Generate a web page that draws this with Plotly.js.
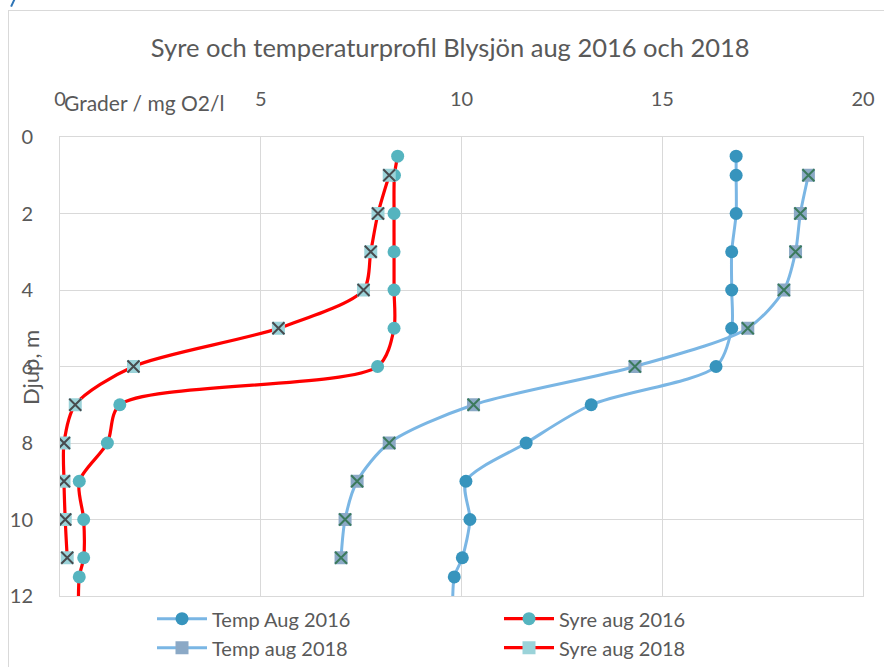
<!DOCTYPE html>
<html>
<head>
<meta charset="utf-8">
<script src="https://cdn.plot.ly/plotly-3.0.1.min.js"></script>
<style>
  html, body { margin: 0; padding: 0; background: #ffffff; }
  #wrap { position: relative; width: 884px; height: 667px; overflow: hidden; }
  #frame { position: absolute; left: 8px; top: 10px; width: 884px; height: 670px; border: 1px solid #d9d9d9; box-sizing: border-box; }
  #corner { position: absolute; left: 12px; top: -2px; width: 2px; height: 9px; background: #2e75b6; transform: rotate(25deg); }
  #chart { position: absolute; left: 0; top: 0; width: 884px; height: 667px; }
</style>
</head>
<body>
<div id="wrap">
  <div id="frame"></div>
  <div id="corner"></div>
  <div id="chart"></div>
</div>
<script>
// Depths (m)
const depth2016 = [0.5, 1, 2, 3, 4, 5, 6, 7, 8, 9, 10, 11, 11.5, 12.5];
const depth2018 = [1, 2, 3, 4, 5, 6, 7, 8, 9, 10, 11];

// Temperature (grader)
const tempAug2016 = [16.84, 16.84, 16.84, 16.73, 16.73, 16.73, 16.34, 13.23, 11.61, 10.11, 10.21, 10.02, 9.82, 9.78];
const tempAug2018 = [18.64, 18.44, 18.32, 18.03, 17.13, 14.32, 10.30, 8.20, 7.40, 7.10, 7.00];

// Oxygen (mg O2/l)
const syreAug2016 = [8.41, 8.33, 8.32, 8.32, 8.32, 8.32, 7.91, 1.49, 1.18, 0.48, 0.59, 0.59, 0.48, 0.46];
const syreAug2018 = [8.20, 7.92, 7.74, 7.56, 5.44, 1.83, 0.38, 0.10, 0.10, 0.13, 0.18];

const seriesNames = ['Temp Aug 2016', 'Syre aug 2016', 'Temp aug 2018', 'Syre aug 2018'];
const xTicks = [0, 5, 10, 15, 20];
const yTicks = [0, 2, 4, 6, 8, 10, 12];

const FONT = 'Lato, "Open Sans", sans-serif';
const GREY = '#595959';
const RED = '#ff0000';
const LBLUE = '#7ab6e4';

const traces = [
  {
    x: tempAug2016, y: depth2016, name: seriesNames[0], type: 'scatter', mode: 'lines+markers',
    line: { color: LBLUE, width: 3, shape: 'spline', smoothing: 0.8 },
    marker: { symbol: 'circle', size: 13, color: '#3794bd' }
  },
  {
    x: syreAug2016, y: depth2016, name: seriesNames[1], type: 'scatter', mode: 'lines+markers',
    line: { color: RED, width: 3.2, shape: 'spline', smoothing: 0.8 },
    marker: { symbol: 'circle', size: 13, color: '#55b4bf' }
  },
  {
    x: tempAug2018, y: depth2018, name: seriesNames[2], type: 'scatter', mode: 'lines+markers',
    line: { color: LBLUE, width: 3, shape: 'spline', smoothing: 0.8 },
    marker: { symbol: 'square', size: 13, color: '#8ba9c6' }
  },
  {
    x: tempAug2018, y: depth2018, name: seriesNames[2], type: 'scatter', mode: 'markers',
    showlegend: false, hoverinfo: 'skip',
    marker: { symbol: 'x-thin-open', size: 12, color: '#3b7a5c', line: { color: '#3b7a5c', width: 2 } }
  },
  {
    x: syreAug2018, y: depth2018, name: seriesNames[3], type: 'scatter', mode: 'lines+markers',
    line: { color: RED, width: 3.2, shape: 'spline', smoothing: 0.8 },
    marker: { symbol: 'square', size: 13, color: '#9bd3d9' }
  },
  {
    x: syreAug2018, y: depth2018, name: seriesNames[3], type: 'scatter', mode: 'markers',
    showlegend: false, hoverinfo: 'skip',
    marker: { symbol: 'x-thin-open', size: 12, color: '#474b4e', line: { color: '#474b4e', width: 2 } }
  }
];

const layout = {
  width: 884, height: 667,
  paper_bgcolor: 'rgba(0,0,0,0)', plot_bgcolor: 'rgba(0,0,0,0)',
  margin: { l: 60, r: 21, t: 137, b: 71, autoexpand: false },
  font: { family: FONT, color: GREY, size: 20 },
  title: {
    text: 'Syre och temperaturprofil Blysjön aug 2016 och 2018',
    font: { family: FONT, size: 25.5, color: GREY },
    xref: 'paper', x: 0.486, xanchor: 'center',
    yref: 'container', y: 1 - 48 / 667, yanchor: 'middle'
  },
  xaxis: {
    side: 'top', range: [0, 20], tickvals: xTicks, ticktext: xTicks.map(String),
    showgrid: true, gridcolor: '#d9d9d9', gridwidth: 1,
    showline: true, mirror: true, linecolor: '#d9d9d9', linewidth: 1,
    zeroline: false, ticks: '', ticklabelstandoff: 22,
    tickfont: { family: FONT, size: 20, color: GREY }
  },
  yaxis: {
    range: [12, 0], tickvals: yTicks, ticktext: yTicks.map(String),
    showgrid: true, gridcolor: '#d9d9d9', gridwidth: 1,
    showline: true, mirror: true, linecolor: '#d9d9d9', linewidth: 1,
    zeroline: false, ticks: '', ticklabelstandoff: 22,
    tickfont: { family: FONT, size: 20, color: GREY }
  },
  annotations: [
    {
      text: 'Grader / mg O2/l', xref: 'paper', yref: 'paper',
      x: 0.002, xanchor: 'left', y: (596 - 103) / 459, yanchor: 'middle',
      showarrow: false, font: { family: FONT, size: 21, color: GREY }
    },
    {
      text: 'Djup, m', xref: 'paper', yref: 'paper', textangle: -90,
      x: (30 - 60) / 803, xanchor: 'center', y: (596 - 368) / 459, yanchor: 'middle',
      showarrow: false, font: { family: FONT, size: 22, color: GREY }
    }
  ],
  legend: {
    orientation: 'h', x: (152 - 60) / 803, xanchor: 'left', y: -0.007, yanchor: 'top',
    entrywidth: 282, entrywidthmode: 'pixels', itemwidth: 50,
    font: { family: FONT, size: 20, color: GREY }, traceorder: 'normal',
    bgcolor: 'rgba(0,0,0,0)'
  },
  showlegend: true
};

Plotly.newPlot('chart', traces, layout, { displayModeBar: false, staticPlot: true });
</script>
</body>
</html>
